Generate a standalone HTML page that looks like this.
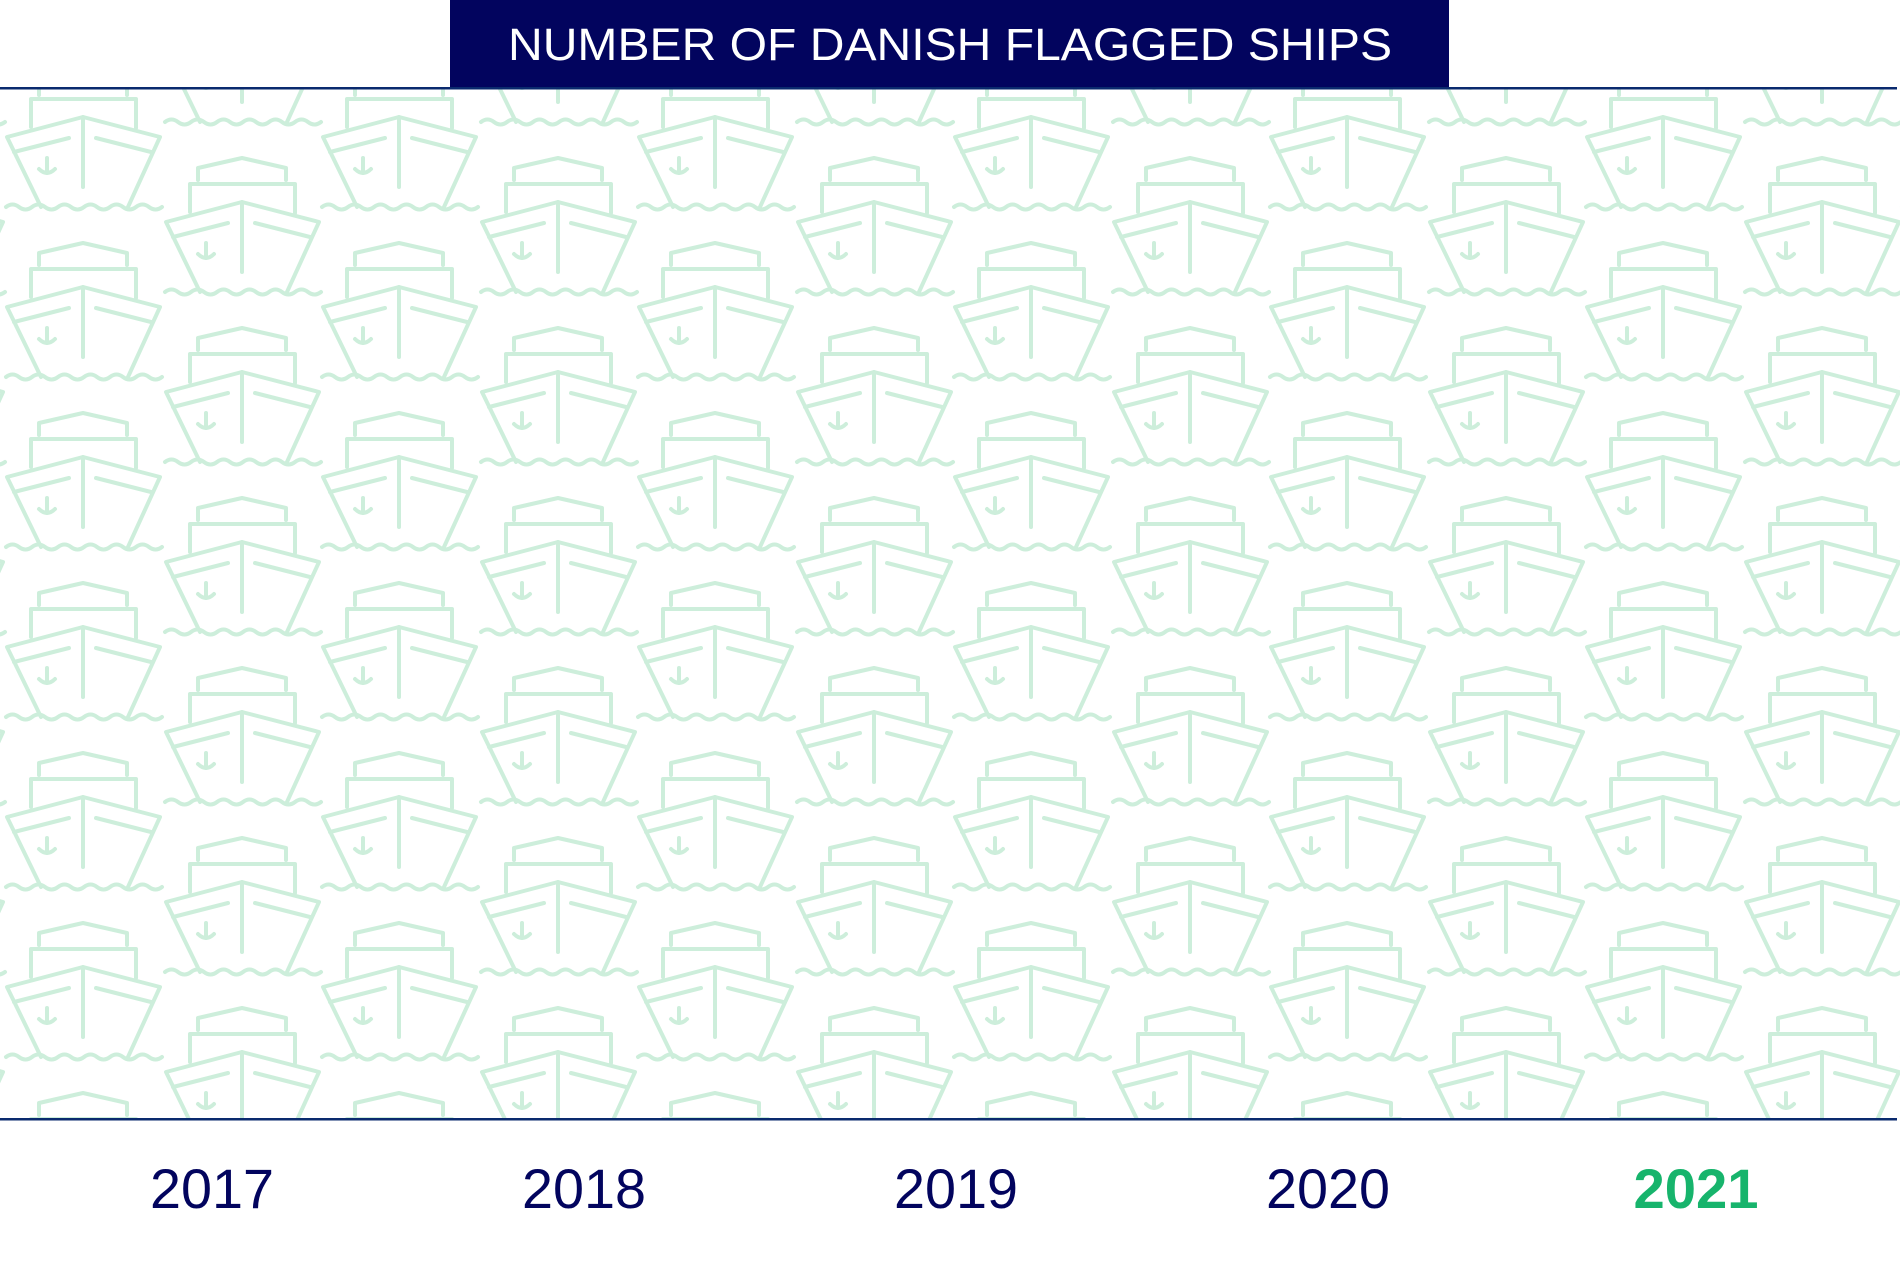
<!DOCTYPE html>
<html><head><meta charset="utf-8"><style>
html,body{margin:0;padding:0;background:#fff;width:1900px;height:1261px;overflow:hidden}
svg{display:block}
</style></head><body>
<svg width="1900" height="1261" viewBox="0 0 1900 1261" xmlns="http://www.w3.org/2000/svg">
<defs>
<g id="ship" fill="none" stroke="#cdeedb" stroke-width="4" stroke-linejoin="round" stroke-linecap="round">
<polyline points="-44,-22 -44,-34 0,-44 44,-34 44,-22"/>
<polyline points="-52,10 -52,-18 53,-18 53,11"/>
<polyline points="-42,90 -76,20 0,0 77,20 45,90"/>
<line x1="-69" y1="35" x2="-14" y2="21"/>
<line x1="13" y1="21" x2="68" y2="35"/>
<line x1="0" y1="0" x2="0" y2="70"/>
<line x1="-36" y1="41" x2="-36" y2="56"/>
<path d="M-44,52 Q-36,60 -28,52"/>
<path d="M-77,90 q6.5,-5 13,0 t13,0 t13,0 t13,0 t13,0 t13,0 t13,0 t13,0 t13,0 t13,0 t13,0 t13,0"/>
</g>
<pattern id="pat" patternUnits="userSpaceOnUse" x="0" y="0" width="316" height="170">
<use href="#ship" x="83" y="117"/>
<use href="#ship" x="83" y="-53"/>
<use href="#ship" x="242" y="32"/>
<use href="#ship" x="242" y="202"/>
<use href="#ship" x="-74" y="32"/>
<use href="#ship" x="-74" y="202"/>
</pattern>
</defs>
<rect x="0" y="89" width="1900" height="1029" fill="url(#pat)"/>
<rect x="450" y="0" width="999" height="87" fill="#02045e"/>
<text x="950" y="60" text-anchor="middle" fill="#fff" font-family="Liberation Sans, sans-serif" font-size="45" textLength="884" lengthAdjust="spacingAndGlyphs">NUMBER OF DANISH FLAGGED SHIPS</text>
<rect x="0" y="87" width="1897" height="2.5" fill="#0a2a6e"/>
<rect x="0" y="1118" width="1897" height="2.5" fill="#0a2a6e"/>
<g font-family="Liberation Sans, sans-serif" font-size="56" text-anchor="middle" fill="#02045e">
<text x="212" y="1208" textLength="124" lengthAdjust="spacingAndGlyphs">2017</text>
<text x="584" y="1208" textLength="124" lengthAdjust="spacingAndGlyphs">2018</text>
<text x="956" y="1208" textLength="124" lengthAdjust="spacingAndGlyphs">2019</text>
<text x="1328" y="1208" textLength="124" lengthAdjust="spacingAndGlyphs">2020</text>
<text x="1696" y="1208" fill="#17b46c" font-weight="bold" textLength="125" lengthAdjust="spacingAndGlyphs">2021</text>
</g>
</svg>
</body></html>
